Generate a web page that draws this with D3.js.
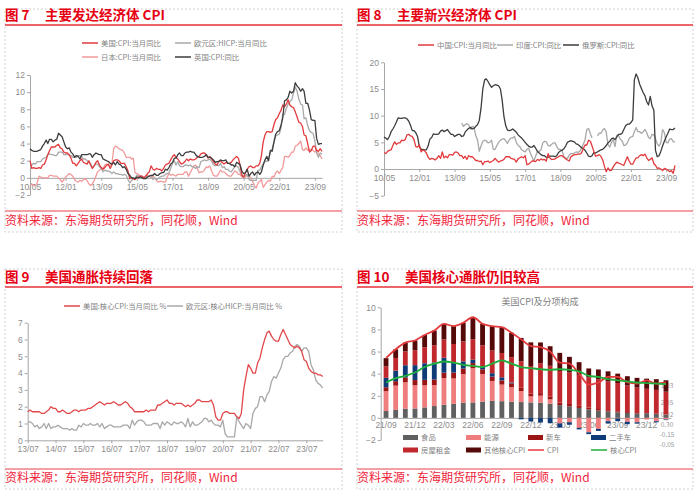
<!DOCTYPE html>
<html>
<head>
<meta charset="utf-8">
<script src="https://cdn.jsdelivr.net/npm/d3@7"></script>
<style>
    body { margin: 0; background: #fff; }
    svg text { font-family: "Noto Sans CJK SC", "Noto Sans", sans-serif; }
    .tick text { font-family: "Liberation Sans", Arial, sans-serif; font-size: 8.5px; fill: #8c8c8c; }
    .tick line, .domain { stroke: #a6a6a6; }
    .leg { font-size: 7.4px; fill: #7f7f7f; }
    .num, .ttl { font-size: 13.5px; font-weight: 700; fill: #e60012; }
    .src { font-size: 12px; fill: #f0243a; }
</style>
</head>
<body>
<svg width="700" height="495"></svg>
<script>
    // ---------- 图7 主要发达经济体 CPI, 月度 2010/05 - 2024/01 ----------
    var dmStart = "2010-05";
    var dmTicks = ["2010-05", "2012-01", "2013-09", "2015-05", "2017-01", "2018-09", "2020-05", "2022-01", "2023-09"];
    var usCpi = [2.0, 1.1, 1.2, 1.1, 1.1, 1.2, 1.1, 1.5,
        1.6, 2.1, 2.7, 3.2, 3.6, 3.6, 3.6, 3.8, 3.9, 3.5, 3.4, 3.0,
        2.9, 2.9, 2.7, 2.3, 1.7, 1.7, 1.4, 1.7, 2.0, 2.2, 1.8, 1.7,
        1.6, 2.0, 1.5, 1.1, 1.4, 1.8, 2.0, 1.5, 1.2, 1.0, 1.2, 1.5,
        1.6, 1.1, 1.5, 2.0, 2.1, 2.1, 2.0, 1.7, 1.7, 1.7, 1.3, 0.8,
        -0.1, 0.0, -0.1, -0.2, 0.0, 0.1, 0.2, 0.2, 0.0, 0.2, 0.5, 0.7,
        1.4, 1.0, 0.9, 1.1, 1.0, 1.0, 0.8, 1.1, 1.5, 1.6, 1.7, 2.1,
        2.5, 2.7, 2.4, 2.2, 1.9, 1.6, 1.7, 1.9, 2.2, 2.0, 2.2, 2.1,
        2.1, 2.2, 2.4, 2.5, 2.8, 2.9, 2.9, 2.7, 2.3, 2.5, 2.2, 1.9,
        1.6, 1.5, 1.9, 2.0, 1.8, 1.6, 1.8, 1.7, 1.7, 1.8, 2.1, 2.3,
        2.5, 2.3, 1.5, 0.3, 0.1, 0.6, 1.0, 1.3, 1.4, 1.2, 1.2, 1.4,
        1.4, 1.7, 2.6, 4.2, 5.0, 5.4, 5.4, 5.3, 5.4, 6.2, 6.8, 7.0,
        7.5, 7.9, 8.5, 8.3, 8.6, 9.1, 8.5, 8.3, 8.2, 7.7, 7.1, 6.5,
        6.4, 6.0, 5.0, 4.9, 4.0, 3.0, 3.2, 3.7, 3.7, 3.2, 3.1, 3.4,
        3.1];
    var euHicp = [1.7, 1.5, 1.7, 1.6, 1.9, 1.9, 1.9, 2.2,
        2.3, 2.4, 2.7, 2.8, 2.7, 2.7, 2.6, 2.6, 3.0, 3.0, 3.0, 2.7,
        2.7, 2.7, 2.7, 2.6, 2.4, 2.4, 2.4, 2.6, 2.6, 2.5, 2.2, 2.2,
        2.0, 1.8, 1.7, 1.2, 1.4, 1.6, 1.6, 1.3, 1.1, 0.7, 0.9, 0.8,
        0.8, 0.7, 0.5, 0.7, 0.5, 0.5, 0.4, 0.4, 0.3, 0.4, 0.3, -0.2,
        -0.6, -0.3, -0.1, 0.0, 0.3, 0.2, 0.2, 0.1, -0.1, 0.1, 0.1, 0.2,
        0.3, -0.2, 0.0, -0.2, -0.1, 0.1, 0.2, 0.2, 0.4, 0.5, 0.6, 1.1,
        1.7, 2.0, 1.5, 1.9, 1.4, 1.3, 1.3, 1.5, 1.5, 1.4, 1.5, 1.3,
        1.3, 1.1, 1.3, 1.2, 1.9, 2.0, 2.1, 2.0, 2.1, 2.2, 1.9, 1.5,
        1.4, 1.5, 1.4, 1.7, 1.2, 1.3, 1.0, 1.0, 0.8, 0.7, 1.0, 1.3,
        1.4, 1.2, 0.7, 0.3, 0.1, 0.3, 0.4, -0.2, -0.3, -0.3, -0.3, -0.3,
        0.9, 0.9, 1.3, 1.6, 2.0, 1.9, 2.2, 3.0, 3.4, 4.1, 4.9, 5.0,
        5.1, 5.9, 7.4, 7.4, 8.1, 8.6, 8.9, 9.1, 9.9, 10.6, 10.1, 9.2,
        8.6, 8.5, 6.9, 7.0, 6.1, 5.5, 5.3, 5.2, 4.3, 2.9, 2.4, 2.9,
        2.8];
    var jpCpi = [-0.9, -0.7, -0.9, -0.9, -0.6, 0.2, 0.1, 0.0,
        0.0, 0.0, 0.0, 0.3, 0.3, 0.2, 0.2, 0.2, 0.0, -0.2, -0.5, -0.2,
        0.1, 0.3, 0.5, 0.4, 0.2, -0.2, -0.4, -0.5, -0.3, -0.4, -0.2, -0.1,
        -0.3, -0.7, -0.9, -0.7, -0.3, 0.2, 0.7, 0.9, 1.1, 1.1, 1.5, 1.6,
        1.4, 1.5, 1.6, 3.4, 3.7, 3.6, 3.4, 3.3, 3.2, 2.9, 2.4, 2.4,
        2.4, 2.2, 2.3, 0.6, 0.5, 0.4, 0.2, 0.2, 0.0, 0.3, 0.3, 0.2,
        0.0, 0.3, 0.0, -0.3, -0.5, -0.4, -0.4, -0.5, -0.5, 0.1, 0.5, 0.3,
        0.4, 0.3, 0.2, 0.4, 0.4, 0.4, 0.4, 0.7, 0.7, 0.2, 0.6, 1.0,
        1.4, 1.5, 1.1, 0.6, 0.7, 0.7, 0.9, 1.3, 1.2, 1.4, 0.8, 0.3,
        0.2, 0.2, 0.5, 0.9, 0.7, 0.7, 0.5, 0.3, 0.2, 0.2, 0.5, 0.8,
        0.7, 0.4, 0.4, 0.1, 0.1, 0.1, 0.3, 0.2, 0.0, -0.4, -0.9, -1.2,
        -0.6, -0.4, -0.2, -1.1, -0.8, -0.5, -0.3, -0.4, 0.2, 0.1, 0.6, 0.8,
        0.5, 0.9, 1.2, 2.5, 2.5, 2.4, 2.6, 3.0, 3.0, 3.7, 3.8, 4.0,
        4.3, 3.3, 3.2, 3.5, 3.2, 3.3, 3.3, 3.2, 3.0, 3.3, 2.8, 2.6,
        2.2];
    var ukCpi = [3.4, 3.2, 3.1, 3.1, 3.1, 3.2, 3.3, 3.7,
        4.0, 4.4, 4.0, 4.5, 4.5, 4.2, 4.4, 4.5, 5.2, 5.0, 4.8, 4.2,
        3.6, 3.4, 3.5, 3.0, 2.8, 2.4, 2.6, 2.5, 2.2, 2.7, 2.7, 2.7,
        2.7, 2.8, 2.8, 2.4, 2.7, 2.9, 2.8, 2.7, 2.7, 2.2, 2.1, 2.0,
        1.9, 1.7, 1.6, 1.8, 1.5, 1.9, 1.6, 1.5, 1.2, 1.3, 1.0, 0.5,
        0.3, 0.0, 0.0, -0.1, 0.1, 0.0, 0.1, 0.0, -0.1, -0.1, 0.1, 0.2,
        0.3, 0.3, 0.5, 0.3, 0.3, 0.5, 0.6, 0.6, 1.0, 0.9, 1.2, 1.6,
        1.8, 2.3, 2.3, 2.7, 2.9, 2.6, 2.6, 2.9, 3.0, 3.0, 3.1, 3.0,
        3.0, 2.7, 2.5, 2.4, 2.4, 2.4, 2.5, 2.7, 2.4, 2.4, 2.3, 2.1,
        1.8, 1.9, 1.9, 2.1, 2.0, 2.0, 2.1, 1.7, 1.7, 1.5, 1.5, 1.3,
        1.8, 1.7, 1.5, 0.8, 0.5, 0.6, 1.0, 0.2, 0.5, 0.7, 0.3, 0.6,
        0.7, 0.4, 0.7, 1.5, 2.1, 2.5, 2.0, 3.2, 3.1, 4.2, 5.1, 5.4,
        5.5, 6.2, 7.0, 9.0, 9.1, 9.4, 10.1, 9.9, 10.1, 11.1, 10.7, 10.5,
        10.1, 10.4, 10.1, 8.7, 8.7, 7.9, 6.8, 6.7, 6.7, 4.6, 3.9, 4.0,
        4.0];

    // ---------- 图8 主要新兴经济体 CPI, 月度 2010/05 - 2024/02 ----------
    var emStart = "2010-05";
    var inStart = "2014-01";
    var cnCpi = [3.1, 2.9, 3.3, 3.5, 3.6, 4.4, 5.1, 4.6,
        4.9, 4.9, 5.4, 5.3, 5.5, 6.4, 6.5, 6.2, 6.1, 5.5, 4.2, 4.1,
        4.5, 3.2, 3.6, 3.4, 3.0, 2.2, 1.8, 2.0, 1.9, 1.7, 2.0, 2.5,
        2.0, 3.2, 2.1, 2.4, 2.1, 2.7, 2.7, 2.6, 3.1, 3.2, 3.0, 2.5,
        2.5, 2.0, 2.4, 1.8, 2.5, 2.3, 2.3, 2.0, 1.6, 1.6, 1.4, 1.5,
        0.8, 1.4, 1.4, 1.5, 1.2, 1.4, 1.6, 2.0, 1.6, 1.3, 1.5, 1.6,
        1.8, 2.3, 2.3, 2.3, 2.0, 1.9, 1.8, 1.3, 1.9, 2.1, 2.3, 2.1,
        2.5, 0.8, 0.9, 1.2, 1.5, 1.5, 1.4, 1.8, 1.6, 1.9, 1.7, 1.8,
        1.5, 2.9, 2.1, 1.8, 1.8, 1.9, 2.1, 2.3, 2.5, 2.5, 2.2, 1.9,
        1.7, 1.5, 2.3, 2.5, 2.7, 2.7, 2.8, 2.8, 3.0, 3.8, 4.5, 4.5,
        5.4, 5.2, 4.3, 3.3, 2.4, 2.5, 2.7, 2.4, 1.7, 0.5, -0.5, 0.2,
        -0.3, -0.2, 0.4, 0.9, 1.3, 1.1, 1.0, 0.8, 0.7, 1.5, 2.3, 1.5,
        0.9, 0.9, 1.5, 2.1, 2.1, 2.5, 2.7, 2.5, 2.8, 2.1, 1.6, 1.8,
        2.1, 1.0, 0.7, 0.1, 0.2, 0.0, -0.3, 0.1, 0.0, -0.2, -0.5, -0.3,
        -0.8, 0.7];
    var inCpi = [8.6, 8.0, 8.3, 8.5, 8.3, 7.5, 8.0, 7.8, 6.3, 5.5, 3.3, 4.3,
        5.2, 5.4, 5.3, 4.9, 5.0, 5.4, 3.7, 3.7, 4.4, 5.0, 5.4, 5.6,
        5.7, 5.3, 4.8, 5.5, 5.8, 5.8, 6.1, 5.0, 4.4, 4.2, 3.6, 3.4,
        3.2, 3.7, 3.9, 3.0, 2.2, 1.5, 2.4, 3.3, 3.3, 3.6, 4.9, 5.2,
        5.1, 4.4, 4.3, 4.6, 4.9, 4.9, 4.2, 3.7, 3.7, 3.4, 2.3, 2.1,
        2.0, 2.6, 2.9, 2.9, 3.0, 3.2, 3.1, 3.3, 4.0, 4.6, 5.5, 7.4,
        7.6, 6.6, 5.8, null, null, 6.2, 6.7, 6.7, 7.3, 7.6, 6.9, 4.6,
        4.1, 5.0, 5.5, 4.2, 6.3, 6.3, 5.6, 5.3, 4.4, 4.5, 4.9, 5.7,
        6.0, 6.1, 7.0, 7.8, 7.0, 7.0, 6.7, 7.0, 7.4, 6.8, 5.9, 5.7,
        6.5, 6.4, 5.7, 4.7, 4.3, 4.9, 7.4, 6.8, 5.0, 4.9, 5.6, 5.7,
        5.1, 5.1];
    var ruCpi = [6.0, 5.8, 5.5, 6.1, 7.0, 7.5, 8.1, 8.8,
        9.6, 9.5, 9.5, 9.6, 9.6, 9.4, 9.0, 8.2, 7.2, 7.2, 6.8, 6.1,
        4.2, 3.7, 3.7, 3.6, 3.6, 4.3, 5.6, 5.9, 6.6, 6.5, 6.5, 6.6,
        7.1, 7.3, 7.0, 7.2, 7.4, 6.9, 6.5, 6.5, 6.1, 6.3, 6.5, 6.5,
        6.1, 6.2, 6.9, 7.3, 7.6, 7.8, 7.5, 7.6, 8.0, 8.3, 9.1, 11.4,
        15.0, 16.7, 16.9, 16.4, 15.8, 15.3, 15.6, 15.8, 15.7, 15.6, 15.0, 12.9,
        9.8, 8.1, 7.3, 7.2, 7.3, 7.5, 7.2, 6.9, 6.4, 6.1, 5.8, 5.4,
        5.0, 4.6, 4.3, 4.1, 4.1, 4.4, 3.9, 3.3, 3.0, 2.7, 2.5, 2.5,
        2.2, 2.2, 2.4, 2.4, 2.4, 2.3, 2.5, 3.1, 3.4, 3.5, 3.8, 4.3,
        5.0, 5.2, 5.3, 5.2, 5.1, 4.7, 4.6, 4.3, 4.0, 3.8, 3.5, 3.0,
        2.4, 2.3, 2.5, 3.1, 3.0, 3.2, 3.4, 3.6, 3.7, 4.0, 4.4, 4.9,
        5.2, 5.7, 5.8, 5.5, 6.0, 6.5, 6.5, 6.7, 7.4, 8.1, 8.4, 8.4,
        8.7, 9.2, 16.7, 17.8, 17.1, 15.9, 15.1, 14.3, 13.7, 12.6, 12.0, 13.6,
        11.8, 11.0, 3.5, 2.3, 2.5, 3.3, 4.3, 5.2, 6.0, 6.7, 7.5, 7.4,
        7.4, 7.7];

    // ---------- 图9 美国/欧元区核心通胀, 月度 2013/07 - 2024/02 ----------
    var coreStart = "2013-07";
    var coreTicks = ["2013-07", "2014-07", "2015-07", "2016-07", "2017-07", "2018-07", "2019-07", "2020-07", "2021-07", "2022-07", "2023-07"];
    var usCore = [1.7, 1.8, 1.7, 1.7, 1.7, 1.7,
        1.6, 1.6, 1.7, 1.8, 2.0, 1.9, 1.9, 1.7, 1.7, 1.8, 1.7, 1.6,
        1.6, 1.7, 1.8, 1.8, 1.7, 1.8, 1.8, 1.8, 1.9, 1.9, 2.0, 2.1,
        2.2, 2.3, 2.2, 2.1, 2.2, 2.2, 2.2, 2.3, 2.2, 2.1, 2.1, 2.2,
        2.3, 2.2, 2.0, 1.9, 1.7, 1.7, 1.7, 1.7, 1.7, 1.8, 1.7, 1.8,
        1.8, 1.8, 2.1, 2.1, 2.2, 2.3, 2.4, 2.2, 2.2, 2.1, 2.2, 2.2,
        2.2, 2.1, 2.0, 2.1, 2.0, 2.1, 2.2, 2.4, 2.4, 2.3, 2.3, 2.3,
        2.3, 2.4, 2.1, 1.4, 1.2, 1.2, 1.6, 1.7, 1.7, 1.6, 1.6, 1.6,
        1.4, 1.3, 1.6, 3.0, 3.8, 4.5, 4.3, 4.0, 4.0, 4.6, 4.9, 5.5,
        6.0, 6.4, 6.5, 6.2, 6.0, 5.9, 5.9, 6.3, 6.6, 6.3, 6.0, 5.7,
        5.6, 5.5, 5.6, 5.5, 5.3, 4.8, 4.7, 4.3, 4.1, 4.0, 4.0, 3.9,
        3.9, 3.8];
    var euCore = [1.1, 1.1, 1.0, 0.8, 0.9, 0.7,
        0.8, 1.0, 0.7, 1.0, 0.7, 0.8, 0.8, 0.9, 0.8, 0.7, 0.7, 0.7,
        0.6, 0.7, 0.6, 0.6, 0.9, 0.8, 1.0, 0.9, 0.9, 1.0, 0.9, 0.9,
        1.0, 0.8, 1.0, 0.7, 0.8, 0.9, 0.9, 0.8, 0.8, 0.8, 0.8, 0.9,
        0.9, 0.9, 0.7, 1.2, 0.9, 1.1, 1.2, 1.2, 1.1, 0.9, 0.9, 0.9,
        1.0, 1.0, 1.0, 0.7, 1.1, 0.9, 1.1, 1.0, 0.9, 1.1, 1.0, 1.0,
        1.1, 1.0, 0.8, 1.3, 0.8, 1.1, 0.9, 0.9, 1.0, 1.1, 1.3, 1.3,
        1.1, 1.2, 1.0, 0.9, 0.9, 0.8, 1.2, 0.4, 0.2, 0.2, 0.2, 0.2,
        1.4, 1.1, 0.9, 0.7, 1.0, 0.9, 0.7, 1.6, 1.9, 2.0, 2.6, 2.6,
        2.3, 2.7, 2.9, 3.5, 3.8, 3.7, 4.0, 4.3, 4.8, 5.0, 5.0, 5.2,
        5.3, 5.6, 5.7, 5.6, 5.3, 5.5, 5.5, 5.3, 4.5, 4.2, 3.6, 3.4,
        3.3, 3.1];

    // ---------- 图10 美国CPI及分项构成 (拉动, 百分点), 2021/09 - 2024/02 ----------
    var partStart = "2021-09";
    var partKeys = ["food", "energy", "newcar", "usedcar", "shelter", "other"];
    var partNames = ["食品", "能源", "新车", "二手车", "房屋租金", "其他核心CPI"];
    var food = [0.62, 0.72, 0.82, 0.85, 0.95, 1.07, 1.19, 1.27, 1.36, 1.40, 1.47, 1.54, 1.51, 1.47, 1.43,
        1.40, 1.36, 1.28, 1.15, 1.04, 0.90, 0.77, 0.66, 0.58, 0.50, 0.45, 0.39, 0.36, 0.35, 0.30];
    var energy = [1.80, 2.20, 2.40, 2.10, 2.00, 1.90, 2.40, 2.30, 2.60, 3.10, 2.50, 1.80, 1.50, 1.30, 1.00,
        0.55, 0.65, 0.40, -0.50, -0.40, -0.90, -1.30, -1.00, -0.30, -0.05, -0.35, -0.40, -0.15, -0.30, -0.15];
    var newcar = [0.35, 0.40, 0.44, 0.47, 0.49, 0.50, 0.50, 0.53, 0.50, 0.46, 0.42, 0.40, 0.38, 0.34, 0.29,
        0.24, 0.23, 0.23, 0.24, 0.22, 0.19, 0.16, 0.14, 0.12, 0.10, 0.08, 0.05, 0.04, 0.03, 0.02];
    var usedcar = [0.85, 0.95, 1.10, 1.35, 1.50, 1.55, 1.35, 0.90, 0.65, 0.30, 0.27, 0.30, 0.28, 0.08, -0.13,
        -0.33, -0.42, -0.48, -0.38, -0.22, -0.14, -0.17, -0.18, -0.21, -0.25, -0.22, -0.12, 0.03, -0.10, -0.05];
    var shelter = [1.05, 1.15, 1.25, 1.35, 1.45, 1.55, 1.65, 1.68, 1.80, 1.85, 1.90, 2.05, 2.20, 2.30, 2.40,
        2.50, 2.70, 2.80, 2.85, 2.85, 2.80, 2.75, 2.70, 2.60, 2.55, 2.40, 2.30, 2.20, 2.15, 2.05];
    var other = [0.73, 0.78, 0.79, 0.88, 1.11, 1.33, 1.41, 1.62, 1.69, 1.99, 1.94, 2.21, 2.33, 2.21, 2.11,
        2.14, 1.88, 1.77, 1.64, 1.41, 1.15, 0.79, 0.88, 0.91, 0.85, 0.84, 0.88, 0.92, 0.97, 1.03];
    var cpiLine = [5.4, 6.2, 6.8, 7.0, 7.5, 7.9, 8.5, 8.3, 8.6, 9.1, 8.5, 8.3, 8.2, 7.7, 7.1,
        6.5, 6.4, 6.0, 5.0, 4.9, 4.0, 3.0, 3.2, 3.7, 3.7, 3.2, 3.1, 3.4, 3.1, 3.2];
    var coreLine = [3.2, 3.6, 3.8, 4.1, 4.6, 4.9, 5.1, 5.0, 4.8, 4.7, 4.6, 4.9, 5.2, 4.9, 4.6,
        4.5, 4.4, 4.35, 4.4, 4.35, 4.2, 3.8, 3.7, 3.5, 3.4, 3.3, 3.2, 3.15, 3.1, 3.05];

    var svg = d3.select("svg");
    var parseMonth = d3.timeParse("%Y-%m");
    var fmtTick = d3.timeFormat("%y/%m");

    function months(start, n) {
        var s = parseMonth(start);
        var out = [];
        for (var i = 0; i < n; i++) {
            out.push(d3.timeMonth.offset(s, i));
        }
        return out;
    }

    // panel frame: dashed box, red title rule, source line
    function frame(p) {
        var dash = "2,2";
        svg.append("path")
            .attr("d", "M" + p.x0 + "," + p.top + "H" + p.x1 + "V" + p.bottom + "H" + p.x0 + "Z")
            .attr("fill", "none").attr("stroke", "#c4c4c4")
            .attr("stroke-width", 0.8).attr("stroke-dasharray", dash);
        svg.append("line")
            .attr("x1", p.x0).attr("x2", p.x1).attr("y1", p.rule).attr("y2", p.rule)
            .attr("stroke", "#e8303a").attr("stroke-width", 1.3);
        svg.append("line")
            .attr("x1", p.x0).attr("x2", p.x1).attr("y1", p.srcRule).attr("y2", p.srcRule)
            .attr("stroke", "#e8404a").attr("stroke-width", 1);
        svg.append("text").attr("class", "num")
            .attr("x", p.x0).attr("y", p.titleY).text(p.num);
        svg.append("text").attr("class", "ttl")
            .attr("x", p.titleX).attr("y", p.titleY).text(p.title);
        svg.append("text").attr("class", "src")
            .attr("x", p.x0).attr("y", p.srcY).text("资料来源：东海期货研究所，同花顺，Wind");
    }

    function legendLine(x1, y, color, label) {
        svg.append("line")
            .attr("x1", x1).attr("x2", x1 + 16).attr("y1", y).attr("y2", y)
            .attr("stroke", color).attr("stroke-width", 1.5);
        svg.append("text").attr("class", "leg")
            .attr("x", x1 + 19).attr("y", y).attr("dy", "0.35em").text(label);
    }

    function legendRect(x1, y, color, label) {
        svg.append("rect")
            .attr("x", x1).attr("y", y - 2.5).attr("width", 15).attr("height", 5)
            .attr("fill", color);
        svg.append("text").attr("class", "leg")
            .attr("x", x1 + 18).attr("y", y).attr("dy", "0.35em").text(label);
    }

    function lineChart(c) {
        var g = svg.append("g");
        var x = d3.scaleTime().domain(c.xDomain).range(c.xRange);
        var y = d3.scaleLinear().domain(c.yDomain).range(c.yRange);

        g.append("g")
            .attr("transform", "translate(0," + y(0) + ")")
            .call(d3.axisBottom(x)
                .tickValues(c.ticks.map(parseMonth))
                .tickFormat(fmtTick)
                .tickSize(3).tickSizeOuter(0).tickPadding(3));
        g.append("g")
            .attr("transform", "translate(" + c.xRange[0] + ",0)")
            .call(d3.axisLeft(y).tickValues(c.yTicks).tickFormat(d3.format("d"))
                .tickSize(3).tickSizeOuter(0).tickPadding(2));

        c.series.forEach(function(s) {
            var dates = months(s.start, s.values.length);
            var pts = s.values.map(function(v, i) { return { date: dates[i], v: v }; });
            var line = d3.line()
                .defined(function(d) { return d.v != null; })
                .x(function(d) { return x(d.date); })
                .y(function(d) { return y(d.v); });
            g.append("path")
                .datum(pts)
                .attr("d", line)
                .attr("fill", "none")
                .attr("stroke", s.color)
                .attr("stroke-width", 1.3)
                .attr("stroke-linejoin", "round");
        });
    }

    // ---------- panel 7 ----------
    frame({ x0: 5, x1: 342, top: 9, bottom: 232, rule: 25, srcRule: 211, titleY: 20, srcY: 224.5,
        num: "图 7", titleX: 45, title: "主要发达经济体 CPI" });
    lineChart({
        xDomain: [parseMonth(dmStart), parseMonth("2024-01")], xRange: [30, 322],
        yDomain: [-2, 12], yRange: [195, 75], yTicks: [-2, 0, 2, 4, 6, 8, 10, 12],
        ticks: dmTicks,
        series: [
            { start: dmStart, values: jpCpi, color: "#f19a9a" },
            { start: dmStart, values: euHicp, color: "#a8a8a8" },
            { start: dmStart, values: usCpi, color: "#e23a3d" },
            { start: dmStart, values: ukCpi, color: "#3d3d3d" }
        ]
    });
    legendLine(82, 43, "#e23a3d", "美国:CPI:当月同比");
    legendLine(175, 43, "#a8a8a8", "欧元区:HICP:当月同比");
    legendLine(82, 57, "#f19a9a", "日本:CPI:当月同比");
    legendLine(175, 57, "#3d3d3d", "英国:CPI:同比");

    // ---------- panel 8 ----------
    frame({ x0: 357, x1: 693, top: 9, bottom: 232, rule: 25, srcRule: 211, titleY: 20, srcY: 224.5,
        num: "图 8", titleX: 397, title: "主要新兴经济体 CPI" });
    lineChart({
        xDomain: [parseMonth(emStart), parseMonth("2024-02")], xRange: [384, 675],
        yDomain: [-5, 20], yRange: [195.7, 62.3], yTicks: [-5, 0, 5, 10, 15, 20],
        ticks: dmTicks,
        series: [
            { start: inStart, values: inCpi, color: "#a8a8a8" },
            { start: emStart, values: ruCpi, color: "#3d3d3d" },
            { start: emStart, values: cnCpi, color: "#e23a3d" }
        ]
    });
    legendLine(418, 45, "#e23a3d", "中国:CPI:当月同比");
    legendLine(497, 45, "#a8a8a8", "印度:CPI:同比");
    legendLine(563, 45, "#3d3d3d", "俄罗斯:CPI:同比");

    // ---------- panel 9 ----------
    frame({ x0: 5, x1: 342, top: 269, bottom: 489, rule: 287, srcRule: 469, titleY: 282, srcY: 482,
        num: "图 9", titleX: 45, title: "美国通胀持续回落" });
    lineChart({
        xDomain: [parseMonth(coreStart), parseMonth("2024-02")], xRange: [27.7, 322.7],
        yDomain: [0, 7], yRange: [440.3, 322.7], yTicks: [0, 1, 2, 3, 4, 5, 6, 7],
        ticks: coreTicks,
        series: [
            { start: coreStart, values: euCore, color: "#a8a8a8" },
            { start: coreStart, values: usCore, color: "#e2474a" }
        ]
    });
    legendLine(64, 306, "#e2474a", "美国:核心CPI:当月同比 %");
    legendLine(167, 306, "#a8a8a8", "欧元区:核心HICP:当月同比 %");

    // ---------- panel 10 ----------
    frame({ x0: 357, x1: 693, top: 269, bottom: 489, rule: 287, srcRule: 469, titleY: 282, srcY: 482,
        num: "图 10", titleX: 405, title: "美国核心通胀仍旧较高" });

    var partColors = { food: "#606060", energy: "#ef7d7d", newcar: "#9c1515", usedcar: "#0f3b78",
        shelter: "#c0282d", other: "#560909" };
    var partDates = months(partStart, food.length);
    var partRows = partDates.map(function(d, i) {
        return { date: d, food: food[i], energy: energy[i], newcar: newcar[i],
            usedcar: usedcar[i], shelter: shelter[i], other: other[i] };
    });
    var stack = d3.stack().keys(partKeys).offset(d3.stackOffsetDiverging)(partRows);

    var xb = d3.scaleBand().domain(partDates).range([381.2, 670.8]).paddingInner(0.5).paddingOuter(0.25);
    var yb = d3.scaleLinear().domain([-2, 10]).range([440, 307.3]);
    var g10 = svg.append("g");

    g10.append("text").attr("class", "leg")
        .attr("x", 540).attr("y", 305).attr("text-anchor", "middle")
        .style("font-size", "9px").text("美国CPI及分项构成");

    g10.append("g")
        .attr("transform", "translate(0," + yb(0) + ")")
        .call(d3.axisBottom(xb)
            .tickValues(partDates.filter(function(d, i) { return i % 3 === 0; }))
            .tickFormat(fmtTick).tickSize(0).tickSizeOuter(0).tickPadding(4.5));
    g10.append("g")
        .attr("transform", "translate(380.7,0)")
        .call(d3.axisLeft(yb).tickValues([-2, 0, 2, 4, 6, 8, 10]).tickSize(3).tickSizeOuter(0).tickPadding(2));

    // value labels of the last bar, partly covered by the bar as in the source;
    // pushed apart so that they do not sit on top of each other
    var lastIdx = partDates.length - 1;
    var lastLabels = stack.map(function(layer) {
        var seg = layer[lastIdx];
        return { y: yb((seg[0] + seg[1]) / 2), text: partRows[lastIdx][layer.key].toFixed(2) };
    }).sort(function(a, b) { return a.y - b.y; });
    for (var k = 1; k < lastLabels.length; k++) {
        if (lastLabels[k].y < lastLabels[k - 1].y + 10) {
            lastLabels[k].y = lastLabels[k - 1].y + 10;
        }
    }
    g10.selectAll("text.vlab")
        .data(lastLabels)
        .enter()
        .append("text")
        .attr("class", "vlab")
        .attr("x", xb(partDates[lastIdx]) + xb.bandwidth() / 2 + 1)
        .attr("y", function(d) { return d.y; })
        .attr("dy", "0.35em")
        .attr("text-anchor", "middle")
        .attr("font-family", "Liberation Sans, Arial, sans-serif")
        .attr("font-size", 6.5)
        .attr("fill", "#9a9a9a")
        .text(function(d) { return d.text; });

    g10.selectAll("g.layer")
        .data(stack)
        .enter()
        .append("g")
        .attr("class", "layer")
        .attr("fill", function(d) { return partColors[d.key]; })
        .selectAll("rect")
        .data(function(d) { return d; })
        .enter()
        .append("rect")
        .attr("x", function(d) { return xb(d.data.date); })
        .attr("width", xb.bandwidth())
        .attr("y", function(d) { return yb(Math.max(d[0], d[1])); })
        .attr("height", function(d) { return Math.abs(yb(d[0]) - yb(d[1])); });

    function smoothLine(values, color) {
        var line = d3.line()
            .curve(d3.curveMonotoneX)
            .x(function(d, i) { return xb(partDates[i]) + xb.bandwidth() / 2; })
            .y(function(d) { return yb(d); });
        g10.append("path")
            .datum(values)
            .attr("d", line)
            .attr("fill", "none")
            .attr("stroke", color)
            .attr("stroke-width", 1.8);
    }
    smoothLine(cpiLine, "#e23a3d");
    smoothLine(coreLine, "#1fae3c");

    legendRect(403, 437.5, partColors.food, partNames[0]);
    legendRect(466, 437.5, partColors.energy, partNames[1]);
    legendRect(528, 437.5, partColors.newcar, partNames[2]);
    legendRect(591, 437.5, partColors.usedcar, partNames[3]);
    legendRect(403, 450, partColors.shelter, partNames[4]);
    legendRect(466, 450, partColors.other, partNames[5]);
    legendLine(528, 450, "#e23a3d", "CPI");
    legendLine(591, 450, "#1fae3c", "核心CPI");
</script>
</body>
</html>
